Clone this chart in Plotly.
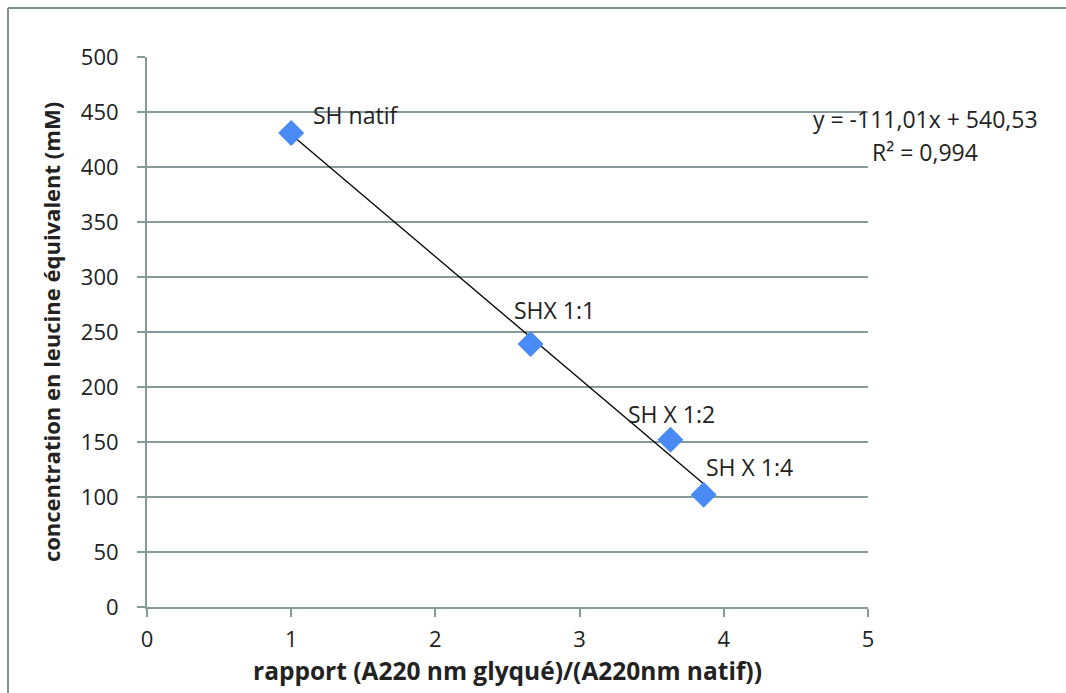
import plotly.graph_objects as go

# Data
labels = ["SH natif", "SHX 1:1", "SH X 1:2", "SH X 1:4"]
x_vals = [1.0, 2.66, 3.63, 3.86]
y_vals = [431, 239, 152, 102]
slope = -111.01
intercept = 540.53
r2 = 0.994
x_ticks = [0, 1, 2, 3, 4, 5]
y_ticks = [0, 50, 100, 150, 200, 250, 300, 350, 400, 450, 500]

axis_col = "#879a9a"
font_fam = "Open Sans, Noto Sans, sans-serif"

L, T, PW, PH = 147, 57, 721, 550
W, H = 1066, 693

fig = go.Figure()

xl = [min(x_vals), max(x_vals)]
yl = [slope * v + intercept for v in xl]
fig.add_trace(go.Scatter(x=xl, y=yl, mode="lines",
                         line=dict(color="black", width=1.3), hoverinfo="skip"))

fig.add_trace(go.Scatter(x=x_vals, y=y_vals, mode="markers",
                         marker=dict(symbol="diamond", size=20, color="#4a8af4",
                                     line=dict(width=0))))

offsets = [(20, 18, "left"), (24, 34, "center"), (1, 26, "center"), (46, 28, "center")]
for lab, xv, yv, (dx, dy, al) in zip(labels, x_vals, y_vals, offsets):
    fig.add_annotation(x=xv, y=yv, text=lab, showarrow=False, xanchor=al, yanchor="middle",
                       xshift=dx, yshift=dy, font=dict(size=23, color="#222222", family=font_fam))

fig.add_annotation(xref="paper", yref="paper", x=(925 - L) / PW, y=(T + PH - 119) / PH,
                   text=f"y = {str(slope).replace('.', ',')}x + {str(intercept).replace('.', ',')}",
                   showarrow=False, xanchor="center", yanchor="middle",
                   font=dict(size=23, color="#222222", family=font_fam))
fig.add_annotation(xref="paper", yref="paper", x=(925 - L) / PW, y=(T + PH - 152) / PH,
                   text=f"R² = {str(r2).replace('.', ',')}",
                   showarrow=False, xanchor="center", yanchor="middle",
                   font=dict(size=23, color="#222222", family=font_fam))

# outer frame: only top and left edges visible
fx0 = (8 - L) / PW
fy1 = (T + PH - 8) / PH
fig.add_shape(type="line", xref="paper", yref="paper", x0=fx0, x1=(W + 20 - L) / PW,
              y0=fy1, y1=fy1, line=dict(color="#7f9090", width=2), layer="below")
fig.add_shape(type="line", xref="paper", yref="paper", x0=fx0, x1=fx0,
              y0=-(H - T - PH + 20) / PH, y1=fy1, line=dict(color="#7f9090", width=2), layer="below")

fig.update_layout(
    width=W, height=H,
    margin=dict(l=L, r=W - L - PW, t=T, b=H - T - PH),
    paper_bgcolor="white", plot_bgcolor="white",
    showlegend=False,
    font=dict(family=font_fam, size=22, color="#222222"),
    xaxis=dict(range=[0, 5], tickvals=x_ticks, showgrid=False, zeroline=False,
               showline=True, linecolor=axis_col, linewidth=2,
               ticks="outside", ticklen=8, tickcolor=axis_col, tickwidth=2,
               tickfont=dict(size=22), ticklabelstandoff=4,
               title=dict(text="<b>rapport (A220 nm glyqué)/(A220nm natif))</b>",
                          font=dict(size=24.5), standoff=10)),
    yaxis=dict(range=[0, 500], tickvals=y_ticks, showgrid=True, gridcolor=axis_col, gridwidth=2,
               zeroline=False, showline=True, linecolor=axis_col, linewidth=2,
               ticks="outside", ticklen=8, tickcolor=axis_col, tickwidth=2,
               tickfont=dict(size=22), ticklabelstandoff=14,
               title=dict(text="<b>concentration en leucine équivalent (mM)</b>",
                          font=dict(size=22), standoff=14)),
)

fig.write_html("out.html", config={"displayModeBar": False},
               post_script="document.body.style.margin='0';document.body.style.overflow='hidden';")
